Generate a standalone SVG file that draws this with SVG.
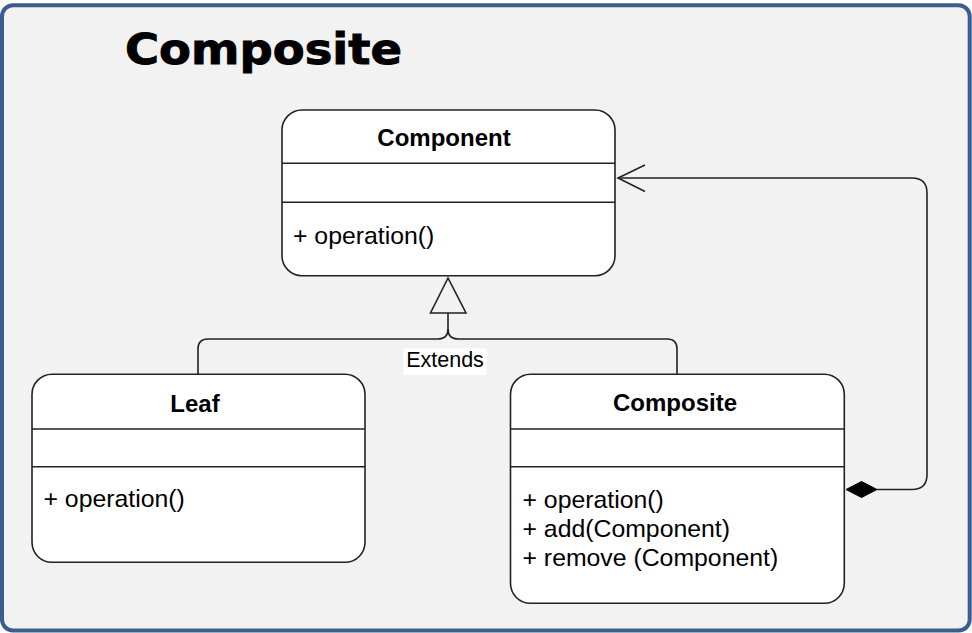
<svg xmlns="http://www.w3.org/2000/svg" width="972" height="633" viewBox="0 0 972 633">
<style>
.box{fill:#ffffff;stroke:#222222;stroke-width:1.6}
.div{stroke:#222222;stroke-width:1.6}
.title{font-family:"Liberation Sans",Arial,sans-serif;font-weight:bold;font-size:24px;fill:#000;text-anchor:middle}
.m{font-family:"Liberation Sans",Arial,sans-serif;font-size:24.8px;fill:#000}
.con{fill:none;stroke:#222222;stroke-width:1.6}
</style>
<rect x="2" y="5.3" width="967.7" height="625.2" rx="11" fill="#f2f2f2" stroke="#3b5e8c" stroke-width="4"/>
<text x="125" y="63.5" font-family="'DejaVu Sans',sans-serif" font-weight="bold" font-size="42" stroke="#000" stroke-width="0.9" textLength="277" lengthAdjust="spacingAndGlyphs">Composite</text>

<g id="connectors">
  <path class="con" d="M448 313 V329 Q448 339 438 339 H208 Q198 339 198 349 V374.3"/>
  <path class="con" d="M448 329 Q448 339 458 339 H667 Q677 339 677 349 V374.3"/>
  <polygon class="con" points="448,278 430.5,313 466,313" fill="none"/>
  <rect x="403.5" y="348.5" width="83" height="26.5" fill="#ffffff"/>
  <text x="445" y="367" font-family="'Liberation Sans',Arial,sans-serif" font-size="21.5" text-anchor="middle">Extends</text>
  <path class="con" d="M877 489.5 H912 Q927 489.5 927 474.5 V193 Q927 178 912 178 H618"/>
  <polyline class="con" points="645,165 618,178 645,191.5"/>
  <polygon points="846,489.5 861.5,481.5 877,489.5 861.5,497.5" fill="#000" stroke="#000" stroke-width="1"/>
</g>

<g id="component">
  <rect class="box" x="282" y="110" width="333" height="165.7" rx="20"/>
  <line class="div" x1="282" y1="163.3" x2="615" y2="163.3"/>
  <line class="div" x1="282" y1="202.3" x2="615" y2="202.3"/>
  <text class="title" x="444" y="146">Component</text>
  <text class="m" x="293" y="244">+ operation()</text>
</g>

<g id="leaf">
  <rect class="box" x="32" y="374.3" width="333" height="188" rx="20"/>
  <line class="div" x1="32" y1="429" x2="365" y2="429"/>
  <line class="div" x1="32" y1="466.7" x2="365" y2="466.7"/>
  <text class="title" x="195" y="411.5">Leaf</text>
  <text class="m" x="43.5" y="507">+ operation()</text>
</g>

<g id="composite">
  <rect class="box" x="510.5" y="374.3" width="333.8" height="229" rx="20"/>
  <line class="div" x1="510.5" y1="429" x2="844.3" y2="429"/>
  <line class="div" x1="510.5" y1="466.7" x2="844.3" y2="466.7"/>
  <text class="title" x="675" y="411">Composite</text>
  <text class="m" x="522.5" y="508">+ operation()</text>
  <text class="m" x="522.5" y="537">+ add(Component)</text>
  <text class="m" x="522.5" y="565.5">+ remove (Component)</text>
</g>
</svg>
